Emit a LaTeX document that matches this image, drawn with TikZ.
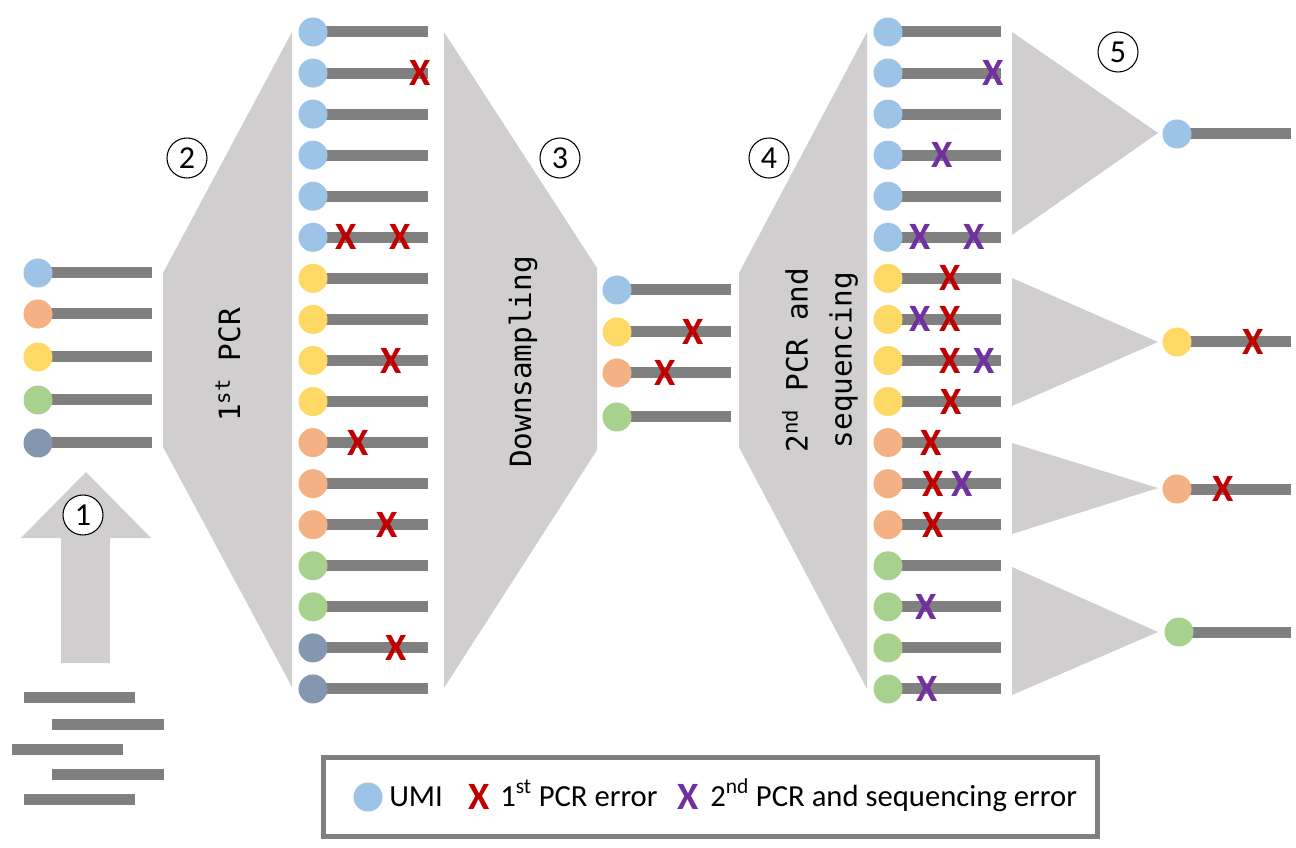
\documentclass[tikz,border=0pt]{standalone}
\usepackage{fontspec}
\setmainfont{Carlito}
\newfontfamily\labmono{DejaVu Sans Mono}
\definecolor{cblue}{HTML}{9DC3E6}
\definecolor{corange}{HTML}{F4B183}
\definecolor{cyellow}{HTML}{FFD966}
\definecolor{cgreen}{HTML}{A9D18E}
\definecolor{cslate}{HTML}{8497B0}
\definecolor{barg}{HTML}{808080}
\definecolor{polyg}{HTML}{D0CECE}
\definecolor{errred}{HTML}{C00000}
\definecolor{errpurple}{HTML}{7030A0}
\tikzset{
  umi/.style={circle, inner sep=0pt, minimum size=21.75pt, fill=#1},
  bar/.style={draw=barg, line width=8.25pt},
  block/.style={fill=polyg},
  erra/.style={text=errred, font=\bfseries\fontsize{29}{29}\selectfont, inner sep=0pt},
  errb/.style={text=errpurple, font=\bfseries\fontsize{29}{29}\selectfont, inner sep=0pt},
  num/.style={circle, draw=black, fill=white, minimum size=30pt, inner sep=0pt, line width=0.8pt, font=\fontsize{24}{24}\selectfont},
  lab/.style={font=\labmono\fontsize{22}{33}\selectfont, rotate=90, align=center, inner sep=0pt},
  legtext/.style={font=\fontsize{23}{23}\selectfont, inner sep=0pt, anchor=base west}
}
\begin{document}
\begin{tikzpicture}[x=0.75pt, y=-0.75pt]
\useasboundingbox (0,0) rectangle (1296,848);
% blocks
\fill[block] (163,273) -- (292,32) -- (292,687) -- (163,447) -- cycle;
\fill[block] (444,32) -- (597,268) -- (597,450) -- (444,688) -- cycle;
\fill[block] (739,273) -- (867,32) -- (867,689) -- (739,447) -- cycle;
\fill[block] (1012,32) -- (1158,133) -- (1012,235) -- cycle;
\fill[block] (1012,278) -- (1158,342) -- (1012,406) -- cycle;
\fill[block] (1012,443) -- (1158,488) -- (1012,534) -- cycle;
\fill[block] (1012,567) -- (1158,632) -- (1012,695) -- cycle;
% up arrow
\fill[block] (61,663) -- (61,538) -- (21,538) -- (86,472) -- (151,538) -- (110,538) -- (110,663) -- cycle;
% fragments
\draw[bar] (24,697) -- (135,697);
\draw[bar] (52,724) -- (164,724);
\draw[bar] (12,749) -- (123,749);
\draw[bar] (52,774) -- (164,774);
\draw[bar] (24,799) -- (135,799);
% input column
\foreach \c/\yy [count=\i] in {cblue/273, corange/314, cyellow/357, cgreen/400, cslate/443} {
  \coordinate (ac\i) at (38,\yy);
  \coordinate (ae\i) at (152,\yy);
  \draw[bar] (ac\i) -- (ae\i);
  \node[umi=\c] (a\i) at (ac\i) {};
}
% after 1st PCR
\foreach \c [count=\i from 0] in {cblue,cblue,cblue,cblue,cblue,cblue,cyellow,cyellow,cyellow,cyellow,corange,corange,corange,cgreen,cgreen,cslate,cslate} {
  \coordinate (bc\i) at (313,{32+41.06*\i});
  \coordinate (be\i) at (428,{32+41.06*\i});
  \draw[bar] (bc\i) -- (be\i);
  \node[umi=\c] (b\i) at (bc\i) {};
}
% after downsampling
\foreach \c/\yy [count=\i] in {cblue/290, cyellow/332, corange/373, cgreen/417} {
  \coordinate (cc\i) at (617,\yy);
  \coordinate (ce\i) at (731,\yy);
  \draw[bar] (cc\i) -- (ce\i);
  \node[umi=\c] (c\i) at (cc\i) {};
}
% after 2nd PCR
\foreach \c [count=\i from 0] in {cblue,cblue,cblue,cblue,cblue,cblue,cyellow,cyellow,cyellow,cyellow,corange,corange,corange,cgreen,cgreen,cgreen,cgreen} {
  \coordinate (dc\i) at (888,{32+41.06*\i});
  \coordinate (de\i) at (1001,{32+41.06*\i});
  \draw[bar] (dc\i) -- (de\i);
  \node[umi=\c] (d\i) at (dc\i) {};
}
% consensus
\foreach \c/\xx/\yy [count=\i] in {cblue/1177/134, cyellow/1177/342, corange/1177/489, cgreen/1179/632} {
  \coordinate (ec\i) at (\xx,\yy);
  \coordinate (ee\i) at (1291,\yy);
  \draw[bar] (ec\i) -- (ee\i);
  \node[umi=\c] (e\i) at (ec\i) {};
}
% 1st PCR errors
\foreach \r/\xx [count=\k] in {1/420, 5/346, 5/400, 8/391, 10/358, 12/387, 15/396} {
  \node[erra] (xb\k) at (\xx,{32+41.06*\r}) {X};
}
\node[erra] (xc1) at (693,332) {X};
\node[erra] (xc2) at (665,373) {X};
\foreach \r/\xx [count=\k] in {6/950, 7/950, 8/950, 9/951, 10/931, 11/933, 12/933} {
  \node[erra] (xd\k) at (\xx,{32+41.06*\r}) {X};
}
\foreach \r/\xx [count=\k] in {1/993, 3/942, 5/920, 5/974, 7/920, 8/984, 11/962, 14/926, 16/927} {
  \node[errb] (yd\k) at (\xx,{32+41.06*\r}) {X};
}
\node[erra] (xe1) at (1253,342) {X};
\node[erra] (xe2) at (1223,489) {X};
% labels
\node[lab] (l1) at (228,365) {1\textsuperscript{st} PCR};
\node[lab] (l2) at (523,362) {Downsampling};
\node[lab] (l3) at (820,360) {2\textsuperscript{nd} PCR and\\sequencing};
% step numbers
\node[num] (n1) at (83,515) {1};
\node[num] (n2) at (187,158) {2};
\node[num] (n3) at (560,158) {3};
\node[num] (n4) at (769,158) {4};
\node[num] (n5) at (1118,52) {5};
% legend
\draw[draw=barg, line width=3.75pt] (323.5,757.5) rectangle (1097.5,836);
\node[umi=cblue] (g1) at (368,797) {};
\node[legtext] (g2) at (389,806) {UMI};
\node[erra] (g3) at (479,797) {X};
\node[legtext] (g4) at (500,806) {1\textsuperscript{st} PCR error};
\node[errb] (g5) at (688,797) {X};
\node[legtext] (g6) at (710,806) {2\textsuperscript{nd} PCR and sequencing error};
\end{tikzpicture}
\end{document}
